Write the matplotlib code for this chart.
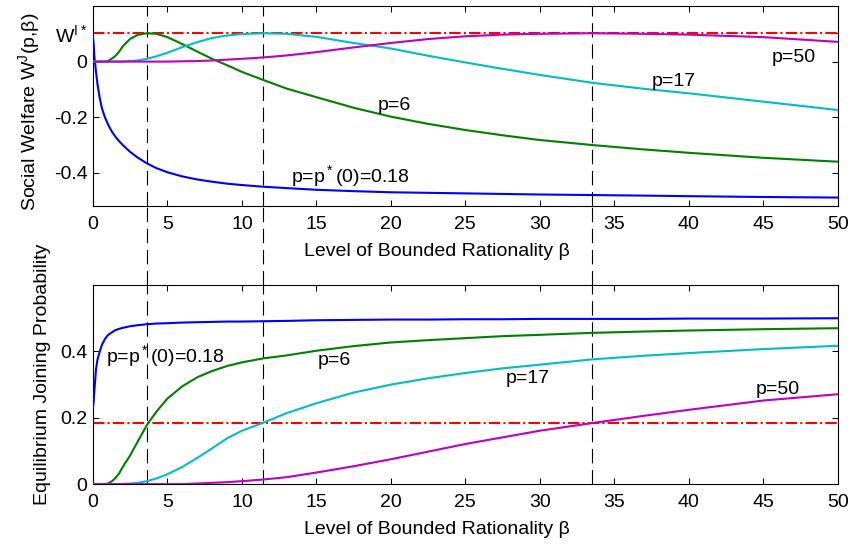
import numpy as np
import matplotlib
matplotlib.use("Agg")
import matplotlib.pyplot as plt
from matplotlib.lines import Line2D
from matplotlib.transforms import blended_transform_factory

plt.rcParams['font.family'] = ['Liberation Sans', 'DejaVu Sans']
plt.rcParams['mathtext.default'] = 'regular'
plt.rcParams['axes.unicode_minus'] = False

# level of bounded rationality (sample points)
beta = [0, 0.05, 0.1, 0.2, 0.3, 0.45, 0.6, 0.8, 1.0, 1.25, 1.5, 1.75, 2, 2.5, 3,
        3.62, 4.25, 5, 6, 7, 8, 9, 10, 11.43, 13, 15, 17.5, 20, 22.5, 25, 27.5,
        30, 33.5, 37, 40, 45, 50]

# social welfare W(p, beta)
w_p018 = [0.088, 0.06, 0.015, -0.035, -0.08, -0.13, -0.168, -0.2, -0.225, -0.25,
          -0.27, -0.286, -0.3, -0.325, -0.345, -0.366, -0.383, -0.398, -0.413,
          -0.424, -0.432, -0.439, -0.444, -0.45, -0.455, -0.461, -0.466, -0.47,
          -0.472, -0.474, -0.476, -0.478, -0.48, -0.482, -0.484, -0.487, -0.489]
w_p6 = [0, 0, 0, 0, 0, 0, 0, 0, 0.002, 0.01, 0.02, 0.035, 0.055, 0.082, 0.096,
        0.102, 0.1, 0.088, 0.063, 0.036, 0.01, -0.013, -0.037, -0.066, -0.097,
        -0.128, -0.166, -0.198, -0.224, -0.246, -0.265, -0.282, -0.3, -0.316,
        -0.328, -0.346, -0.36]
w_p17 = [0, 0, 0, 0, 0, 0, 0, 0, 0, 0, 0, 0, 0, 0.002, 0.004, 0.01, 0.019, 0.032,
         0.052, 0.07, 0.085, 0.094, 0.099, 0.102, 0.1, 0.089, 0.067, 0.047, 0.021,
         -0.003, -0.026, -0.048, -0.076, -0.098, -0.114, -0.144, -0.174]
w_p50 = [0, 0, 0, 0, 0, 0, 0, 0, 0, 0, 0, 0, 0, 0, 0, 0, 0, 0, 0.001, 0.002, 0.004,
         0.007, 0.01, 0.015, 0.022, 0.034, 0.051, 0.067, 0.081, 0.091, 0.097, 0.1,
         0.102, 0.1, 0.097, 0.088, 0.071]
w_star = 0.102

# equilibrium joining probability
q_p018 = [0.232, 0.25, 0.285, 0.345, 0.375, 0.399, 0.42, 0.437, 0.449, 0.457,
          0.464, 0.468, 0.471, 0.476, 0.479, 0.482, 0.484, 0.485, 0.487, 0.488,
          0.489, 0.49, 0.49, 0.491, 0.492, 0.494, 0.495, 0.496, 0.496, 0.497,
          0.497, 0.498, 0.498, 0.498, 0.499, 0.499, 0.5]
q_p6 = [0, 0, 0, 0, 0, 0, 0, 0, 0.002, 0.008, 0.018, 0.032, 0.052, 0.087, 0.128,
        0.178, 0.218, 0.258, 0.295, 0.322, 0.341, 0.356, 0.367, 0.379, 0.388,
        0.402, 0.416, 0.427, 0.434, 0.44, 0.446, 0.45, 0.456, 0.46, 0.463, 0.467,
        0.47]
q_p17 = [0, 0, 0, 0, 0, 0, 0, 0, 0, 0, 0, 0, 0.001, 0.002, 0.004, 0.009, 0.017,
         0.03, 0.052, 0.079, 0.108, 0.138, 0.161, 0.185, 0.214, 0.244, 0.276, 0.3,
         0.319, 0.335, 0.349, 0.36, 0.376, 0.387, 0.395, 0.407, 0.417]
q_p50 = [0, 0, 0, 0, 0, 0, 0, 0, 0, 0, 0, 0, 0, 0, 0, 0, 0, 0, 0, 0.002, 0.004,
         0.006, 0.009, 0.014, 0.021, 0.035, 0.054, 0.075, 0.098, 0.121, 0.141,
         0.161, 0.184, 0.206, 0.224, 0.252, 0.271]
p_star0 = 0.183

# optimal beta for each price (vertical guides)
beta_opt = [3.62, 11.43, 33.5]

c_blue = (0, 0, 1)
c_green = (0, 0.5, 0)
c_cyan = (0, 0.75, 0.75)
c_mag = (0.75, 0, 0.75)
FS = 14
LW = 1.5

fig = plt.figure(figsize=(8.53, 5.44), dpi=100)
ax1 = fig.add_axes([0.109, 0.621, 0.873, 0.368])
ax2 = fig.add_axes([0.109, 0.110, 0.873, 0.366])


def style(ax):
    ax.tick_params(direction='in', top=True, right=True, length=4.5, width=0.75,
                   labelsize=FS)
    ax.tick_params(axis='x', pad=7)
    ax.tick_params(axis='y', pad=4)
    for s in ax.spines.values():
        s.set_linewidth(0.8)
    ax.set_xlim(0, 50)
    ax.set_xticks(np.arange(0, 51, 5))
    for b in beta_opt:
        ax.axvline(b, color='k', lw=0.8, dashes=(13, 6), zorder=1)


# --- top: social welfare
ax1.plot(beta, w_p018, color=c_blue, lw=LW, zorder=3)
ax1.plot(beta, w_p6, color=c_green, lw=LW, zorder=3)
ax1.plot(beta, w_p17, color=c_cyan, lw=LW, zorder=3)
ax1.plot(beta, w_p50, color=c_mag, lw=LW, zorder=3)
ax1.axhline(w_star, color='r', lw=LW, dashes=(5.5, 1.5, 1, 1.5), zorder=2)
style(ax1)
ax1.set_ylim(-0.52, 0.2)
ax1.set_yticks([-0.4, -0.2, 0, w_star])
ax1.set_yticklabels(['-0.4', '-0.2', '0', 'W$^{I*}$'])
ax1.set_xlabel('Level of Bounded Rationality β', fontsize=FS)
ax1.xaxis.set_label_coords(0.462, -0.185)
ax1.set_ylabel('Social Welfare W$^J$(p,β)', fontsize=FS)
ax1.yaxis.set_label_coords(-0.068, 0.47)
ax1.text(13.3, -0.432, 'p=p$^*$(0)=0.18', fontsize=FS, va='baseline')
ax1.text(19.1, -0.174, 'p=6', fontsize=FS, va='baseline')
ax1.text(37.5, -0.088, 'p=17', fontsize=FS, va='baseline')
ax1.text(45.6, 0.0, 'p=50', fontsize=FS, va='baseline')

# --- bottom: equilibrium joining probability
ax2.plot(beta, q_p018, color=c_blue, lw=LW, zorder=3)
ax2.plot(beta, q_p6, color=c_green, lw=LW, zorder=3)
ax2.plot(beta, q_p17, color=c_cyan, lw=LW, zorder=3)
ax2.plot(beta, q_p50, color=c_mag, lw=LW, zorder=3)
ax2.axhline(p_star0, color='r', lw=LW, dashes=(5.5, 1.5, 1, 1.5), zorder=2)
style(ax2)
ax2.set_ylim(0, 0.6)
ax2.set_yticks([0, 0.2, 0.4])
ax2.set_yticklabels(['0', '0.2', '0.4'])
ax2.set_xlabel('Level of Bounded Rationality β', fontsize=FS)
ax2.xaxis.set_label_coords(0.462, -0.185)
ax2.set_ylabel('Equilibrium Joining Probability', fontsize=FS)
ax2.yaxis.set_label_coords(-0.056, 0.55)
ax2.text(0.87, 0.368, 'p=p$^*$(0)=0.18', fontsize=FS, va='baseline')
ax2.text(15.1, 0.36, 'p=6', fontsize=FS, va='baseline')
ax2.text(27.7, 0.306, 'p=17', fontsize=FS, va='baseline')
ax2.text(44.5, 0.272, 'p=50', fontsize=FS, va='baseline')

# dashed guides continue through the gap between the panels
tr = blended_transform_factory(ax1.transData, fig.transFigure)
for b in beta_opt:
    fig.add_artist(Line2D([b, b], [0.476, 0.621], transform=tr, color='k',
                          lw=0.8, dashes=(13, 6)))

fig.savefig('out.png', dpi=100)
